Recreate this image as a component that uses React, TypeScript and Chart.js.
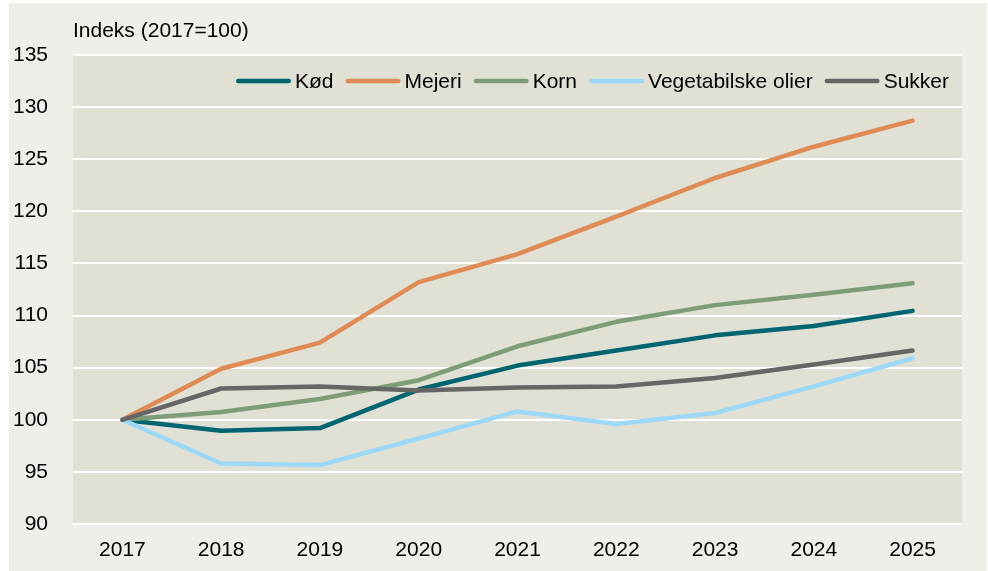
import React, { useEffect, useRef } from "react";
import { Chart, registerables } from "chart.js";

Chart.register(...registerables);

const years = ["2017", "2018", "2019", "2020", "2021", "2022", "2023", "2024", "2025"];
const kod = [100, 98.95, 99.2, 102.9, 105.2, 106.65, 108.1, 109.0, 110.45];
const mejeri = [100, 104.9, 107.4, 113.2, 115.9, 119.5, 123.2, 126.2, 128.7];
const korn = [100, 100.75, 102.0, 103.8, 107.05, 109.4, 111.0, 112.0, 113.1];
const vegOlier = [100, 95.8, 95.65, 98.2, 100.8, 99.6, 100.65, 103.2, 105.9];
const sukker = [100, 103.0, 103.2, 102.8, 103.1, 103.2, 104.0, 105.3, 106.65];

const seriesLabels = ["Kød", "Mejeri", "Korn", "Vegetabilske olier", "Sukker"];
const seriesColors = ["#006570", "#E08A55", "#7F9C78", "#9DD9F7", "#666666"];
const axisTitle = "Indeks (2017=100)";

const FONT_FAMILY = '"Liberation Sans", Arial, Helvetica, sans-serif';
const FONT_SIZE = 21;

const plotBgPlugin = {
  id: "plotBg",
  beforeDraw(chart: any) {
    const { ctx, chartArea } = chart;
    ctx.save();
    ctx.fillStyle = "#E0E0D5";
    ctx.fillRect(chartArea.left, chartArea.top, chartArea.right - chartArea.left, chartArea.bottom - chartArea.top);
    ctx.restore();
  },
};

const overlayPlugin = {
  id: "overlay",
  afterDraw(chart: any) {
    const { ctx, chartArea } = chart;
    ctx.save();
    ctx.font = `${FONT_SIZE}px ${FONT_FAMILY}`;
    ctx.fillStyle = "#000";
    ctx.textBaseline = "alphabetic";
    ctx.textAlign = "left";
    ctx.fillText(axisTitle, chartArea.left, chartArea.top - 18);

    // legend, right aligned inside plot area
    const ds = chart.data.datasets;
    const cy = chartArea.top + 26;
    let xRight = chartArea.right - 13;
    const lineLen = 55;
    const gap = 4;
    const spacing = 12;
    ctx.textBaseline = "middle";
    for (let i = ds.length - 1; i >= 0; i--) {
      const label = ds[i].label as string;
      const w = ctx.measureText(label).width;
      const tx = xRight - w;
      ctx.fillStyle = "#000";
      ctx.fillText(label, tx, cy + 1);
      const lx1 = tx - gap - lineLen;
      ctx.strokeStyle = ds[i].borderColor;
      ctx.lineWidth = 4.5;
      ctx.lineCap = "round";
      ctx.beginPath();
      ctx.moveTo(lx1 + 2.25, cy);
      ctx.lineTo(tx - gap - 2.25, cy);
      ctx.stroke();
      xRight = lx1 - spacing;
    }
    ctx.restore();
  },
};

export default function App() {
  const canvasRef = useRef<HTMLCanvasElement | null>(null);

  useEffect(() => {
    document.body.style.margin = "0";
    const canvas = canvasRef.current;
    if (!canvas) return;
    const seriesData = [kod, mejeri, korn, vegOlier, sukker];
    const chart = new Chart(canvas, {
      type: "line",
      data: {
        labels: years,
        datasets: seriesData.map((d, i) => ({
          label: seriesLabels[i],
          data: d,
          borderColor: seriesColors[i],
          backgroundColor: seriesColors[i],
          borderWidth: 4.5,
          pointRadius: 0,
          pointHoverRadius: 0,
          tension: 0,
          borderCapStyle: "round" as const,
          borderJoinStyle: "round" as const,
          order: seriesData.length - i,
        })),
      },
      options: {
        animation: false,
        responsive: false,
        devicePixelRatio: 1,
        layout: { padding: { top: 52, right: 25, left: 0, bottom: 0 } },
        plugins: {
          legend: { display: false },
          tooltip: { enabled: false },
          title: { display: false },
        },
        scales: {
          x: {
            type: "category",
            offset: true,
            grid: { display: false, drawTicks: false },
            border: { display: false },
            ticks: {
              color: "#000",
              padding: 14,
              maxRotation: 0,
              font: { family: FONT_FAMILY, size: FONT_SIZE },
            },
            afterFit(scale: any) {
              scale.height = 47;
            },
          },
          y: {
            min: 90,
            max: 135,
            grid: { color: "#FFFFFF", lineWidth: 2, drawTicks: false },
            border: { display: false },
            ticks: {
              stepSize: 5,
              color: "#000",
              padding: 25,
              font: { family: FONT_FAMILY, size: FONT_SIZE },
            },
            afterFit(scale: any) {
              scale.width = 64;
            },
          },
        },
      },
      plugins: [plotBgPlugin, overlayPlugin],
    });
    return () => chart.destroy();
  }, []);

  return (
    <div style={{ position: "fixed", left: 0, top: 0, width: 988, height: 571, background: "#FFFFFF", overflow: "hidden" }}>
      <div style={{ position: "absolute", left: 9, top: 3, width: 978, height: 568, background: "#EFEFE9" }}>
        <canvas ref={canvasRef} width={978} height={568} style={{ display: "block", width: 978, height: 568 }} />
      </div>
    </div>
  );
}
